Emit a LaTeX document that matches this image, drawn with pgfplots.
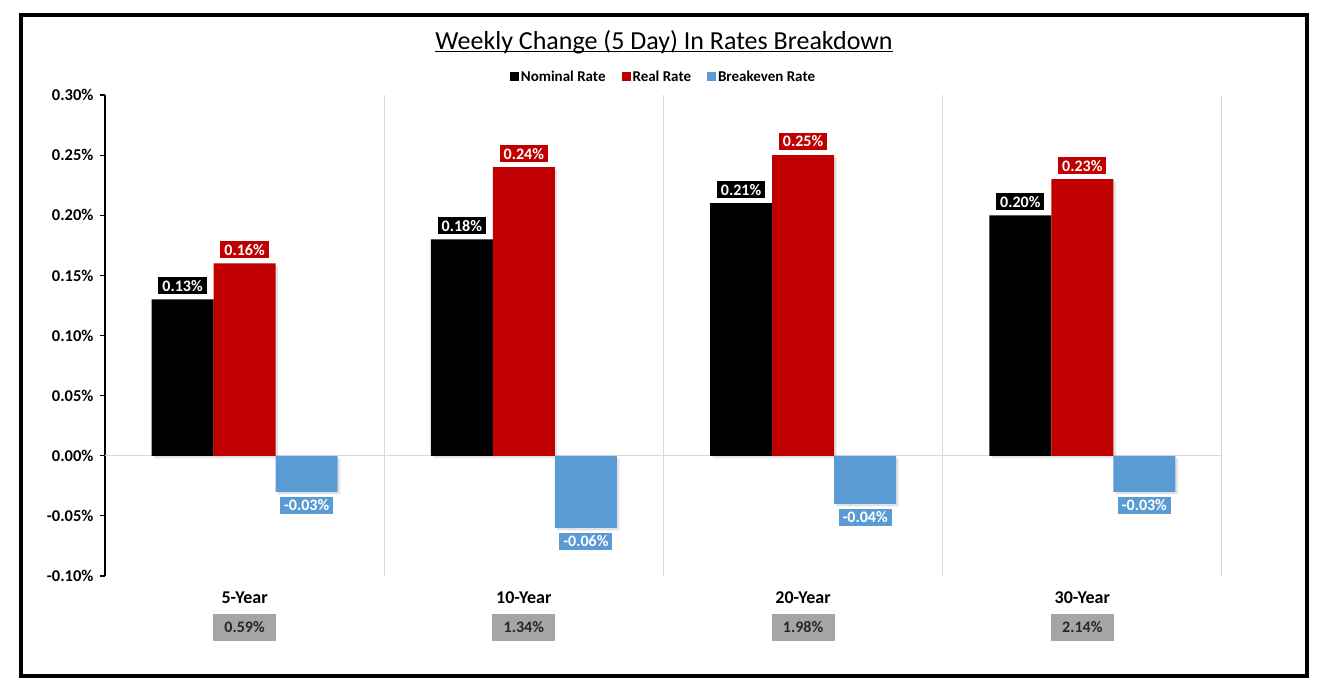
\documentclass[border=0pt]{standalone}
\usepackage{pgfplots}
\pgfplotsset{compat=1.18}
\usepackage{fontspec}
\setmainfont{Carlito}
\usetikzlibrary{shadows}
\definecolor{realred}{HTML}{C00000}
\definecolor{beblue}{HTML}{5B9BD5}
\definecolor{gridgray}{HTML}{D9D9D9}
\definecolor{boxgray}{HTML}{A5A5A5}
\begin{document}
\begin{tikzpicture}
\path[use as bounding box] (0,0) rectangle (1320pt,-689pt);
\fill[white] (0,0) rectangle (1320pt,-689pt);
\draw[line width=4.5pt] (21pt,-15pt) rectangle (1307pt,-676pt);
\node[anchor=base,inner sep=0pt,font=\fontsize{26}{30}\selectfont] (t) at (664pt,-49pt) {Weekly Change (5 Day) In Rates Breakdown};
\draw[line width=1.5pt] ([yshift=-2.5pt]t.base west) -- ([yshift=-2.5pt]t.base east);
\begin{axis}[
  at={(105pt,-576pt)}, anchor=south west,
  scale only axis, width=1117pt, height=481pt,
  xmin=-0.5, xmax=3.5, ymin=-0.1, ymax=0.3,
  ybar, bar width=0.222,
  axis y line*=left, axis x line*=bottom,
  x axis line style={draw=none},
  y axis line style={black, line width=1.2pt},
  ytick={-0.1,-0.05,0,0.05,0.1,0.15,0.2,0.25,0.3},
  scaled y ticks=false,
  yticklabel={\pgfmathprintnumber[fixed,fixed zerofill,precision=2,assume math mode=true]{\tick}\%},
  yticklabel style={font=\fontsize{16.5}{19}\selectfont\bfseries, xshift=-3pt},
  ytick style={black, line width=1.2pt},
  tick align=outside, major tick length=5pt, minor tick length=0pt,
  xtick={0,1,2,3},
  xticklabels={5-Year,10-Year,20-Year,30-Year},
  xticklabel style={font=\fontsize{18}{21}\selectfont\bfseries, yshift=-7pt},
  xtick style={draw=none},
  minor xtick={0.5,1.5,2.5,3.5},
  xminorgrids=true,
  minor x grid style={gridgray, line width=1pt},
  extra y ticks={0},
  extra y tick labels={},
  extra y tick style={grid=major, major grid style={gridgray, line width=1pt}},
  legend style={draw=none, fill=none, legend columns=-1, at={(0.5,1)}, anchor=south, yshift=8pt,
    font=\fontsize{15}{17}\selectfont\bfseries,
    /tikz/every even column/.append style={column sep=14pt}},
  legend image code/.code={\fill[#1,draw=none] (0pt,-4.5pt) rectangle (9pt,4.5pt);},
  point meta=y,
  nodes near coords={\pgfmathprintnumber[fixed,fixed zerofill,precision=2,assume math mode=true]{\pgfplotspointmeta}\%},
  every node near coord/.append style={text=white, font=\fontsize{16}{18}\selectfont\bfseries, inner xsep=4pt, inner ysep=3pt, outer sep=5pt},
  clip=false,
]
\addplot[forget plot, fill=black, draw=none, bar shift=-0.222, drop shadow={shadow xshift=2.5pt,shadow yshift=-2.5pt,opacity=0.22}, every node near coord/.append style={fill=black}]
  coordinates {(0,0.13) (1,0.18) (2,0.21) (3,0.20)};
\addplot[forget plot, fill=realred, draw=none, bar shift=0, drop shadow={shadow xshift=2.5pt,shadow yshift=-2.5pt,opacity=0.22}, every node near coord/.append style={fill=realred}]
  coordinates {(0,0.16) (1,0.24) (2,0.25) (3,0.23)};
\addplot[forget plot, fill=beblue, draw=none, bar shift=0.222, drop shadow={shadow xshift=2.5pt,shadow yshift=-2.5pt,opacity=0.22}, every node near coord/.append style={fill=beblue}]
  coordinates {(0,-0.03) (1,-0.06) (2,-0.04) (3,-0.03)};
\addlegendimage{fill=black}
\addlegendentry{Nominal Rate}
\addlegendimage{fill=realred}
\addlegendentry{Real Rate}
\addlegendimage{fill=beblue}
\addlegendentry{Breakeven Rate}
\node[fill=boxgray, minimum width=63pt, minimum height=27pt, inner sep=0pt, font=\fontsize{16}{18}\selectfont\bfseries, text=black!85, yshift=-51pt] at (axis cs:0,-0.1) {0.59\%};
\node[fill=boxgray, minimum width=63pt, minimum height=27pt, inner sep=0pt, font=\fontsize{16}{18}\selectfont\bfseries, text=black!85, yshift=-51pt] at (axis cs:1,-0.1) {1.34\%};
\node[fill=boxgray, minimum width=63pt, minimum height=27pt, inner sep=0pt, font=\fontsize{16}{18}\selectfont\bfseries, text=black!85, yshift=-51pt] at (axis cs:2,-0.1) {1.98\%};
\node[fill=boxgray, minimum width=63pt, minimum height=27pt, inner sep=0pt, font=\fontsize{16}{18}\selectfont\bfseries, text=black!85, yshift=-51pt] at (axis cs:3,-0.1) {2.14\%};
\end{axis}
\end{tikzpicture}
\end{document}
